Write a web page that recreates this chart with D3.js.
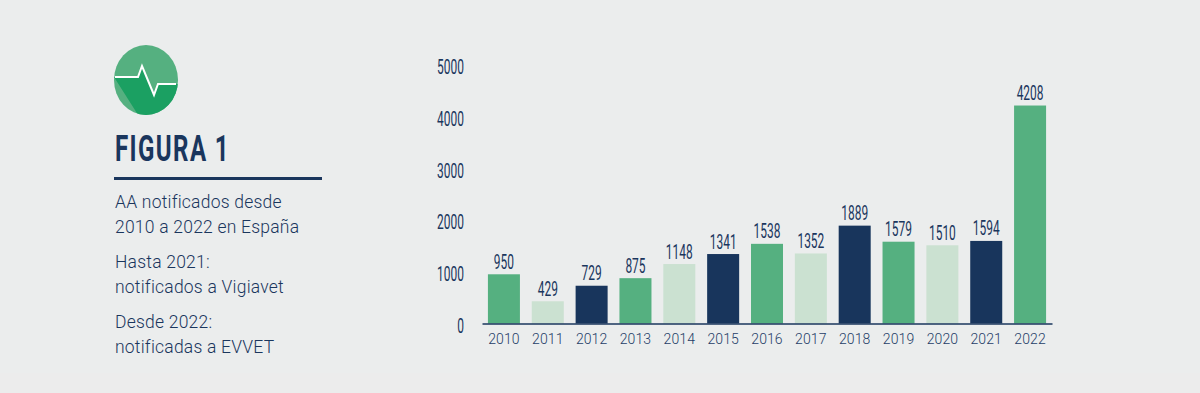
<!DOCTYPE html>
<html>
<head>
<meta charset="utf-8">
<script src="https://cdn.jsdelivr.net/npm/d3@7"></script>
<style>
html, body { margin: 0; padding: 0; background: #ebeded; }
svg { display: block; }
text { font-family: "Roboto", sans-serif; fill: #1a365d; }
.side { font-size: 17.5px; font-weight: 300; letter-spacing: 0.22px; }
.title { font-size: 36.5px; font-weight: 700; letter-spacing: 2.1px; }
.num { font-size: 19.3px; font-weight: 400; }
.year { font-size: 14px; font-weight: 300; fill: #1f3d68; letter-spacing: 0.1px; }
</style>
</head>
<body>
<svg id="chart" width="1200" height="393"></svg>
<script>
const years = ["2010","2011","2012","2013","2014","2015","2016","2017","2018","2019","2020","2021","2022"]
const values = [950,429,729,875,1148,1341,1538,1352,1889,1579,1510,1594,4208]
const barColors = ["#55b080","#cbe1d1","#18355c","#55b080","#cbe1d1","#18355c","#55b080","#cbe1d1","#18355c","#55b080","#cbe1d1","#18355c","#55b080"]
const yTicks = [0,1000,2000,3000,4000,5000]
const sideLines = [
    "AA notificados desde",
    "2010 a 2022 en España",
    "Hasta 2021:",
    "notificados a Vigiavet",
    "Desde 2022:",
    "notificadas a EVVET"
]

const svg = d3.select("#chart")
svg.append("rect").attr("width",1200).attr("height",393).attr("fill","#ebeded")
svg.append("rect").attr("y",373).attr("width",1200).attr("height",20).attr("fill","#ececec")

// icon
const pulse = [[115,77],[138,77],[142,66],[154,95],[158,84],[176,84]]
const defs = svg.append("defs")
defs.append("clipPath").attr("id","disc")
    .append("ellipse").attr("cx",146).attr("cy",80).attr("rx",32).attr("ry",35)
const icon = svg.append("g").attr("clip-path","url(#disc)")
icon.append("rect").attr("x",110).attr("y",40).attr("width",72).attr("height",80).attr("fill","#55b080")
icon.append("path").attr("d","M114 77 H138 L142 66 L154 95 L158 84 H180 V118 H140 Z").attr("fill","#1ba062")
svg.append("path").attr("d",d3.line()(pulse)).attr("fill","none").attr("stroke","#fff").attr("stroke-width",2)

// left block
svg.append("text").attr("class","title")
    .attr("transform","translate(115,161) scale(0.66,1)").text("FIGURA 1")
svg.append("rect").attr("x",114).attr("y",177).attr("width",208).attr("height",3).attr("fill","#1a365d")
// lines come in pairs, 25px apart, with a wider gap between pairs
svg.selectAll(".side").data(sideLines).join("text")
    .attr("class","side").attr("x",115)
    .attr("y",(d,i) => 208 + i*25 + Math.floor(i/2)*10)
    .text(d => d)

// chart
const x = d3.scaleBand().domain(years).range([482,1052]).paddingInner(0.27).paddingOuter(0.135)
const y = d3.scaleLinear().domain([0,5000]).range([323.5,64.5])

svg.selectAll(".bar").data(values).join("rect")
    .attr("class","bar")
    .attr("x",(d,i) => x(years[i]))
    .attr("y",d => y(d))
    .attr("width",x.bandwidth())
    .attr("height",d => y(0)-y(d))
    .attr("fill",(d,i) => barColors[i])

const xAxis = svg.append("g").attr("transform","translate(0,323.5)")
    .call(d3.axisBottom(x).tickSize(0).tickPadding(11))
xAxis.select(".domain").attr("stroke","#1a365d").attr("stroke-width",1.4)
xAxis.selectAll("text").attr("class","year")
xAxis.attr("font-family",null).attr("font-size",null)

const yAxis = svg.append("g").attr("transform","translate(464,0)")
    .call(d3.axisLeft(y).tickValues(yTicks).tickSize(0).tickPadding(0).tickFormat(d3.format("d")))
yAxis.attr("font-family",null).attr("font-size",null)
yAxis.select(".domain").remove()
yAxis.selectAll("text")
    .attr("class","num")
    .attr("x",0).attr("dy",null)
    .attr("transform","translate(0,9) scale(0.62,1)")

svg.selectAll(".val").data(values).join("text")
    .attr("class","num val")
    .attr("text-anchor","middle")
    .attr("transform",(d,i) => `translate(${x(years[i])+x.bandwidth()/2},${y(d)-5.5}) scale(0.62,1)`)
    .text(d => d)
</script>
</body>
</html>
